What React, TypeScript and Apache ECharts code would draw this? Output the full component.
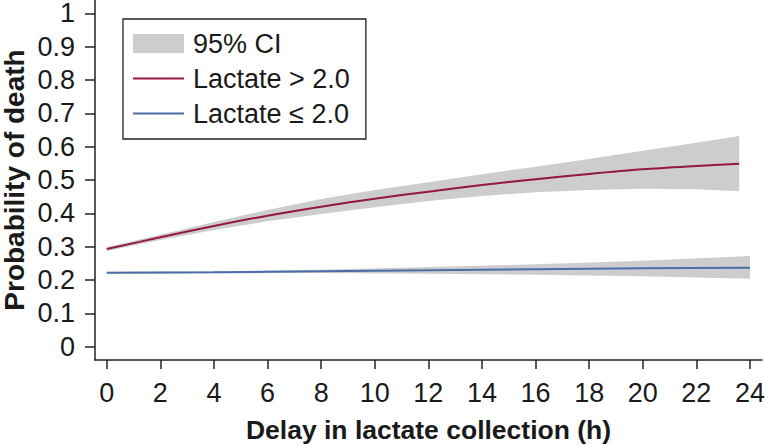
import React, { useEffect, useRef } from "react";
import * as echarts from "echarts";

// ---- data ----
const xTicks = [0, 2, 4, 6, 8, 10, 12, 14, 16, 18, 20, 22, 24];
const yTicks = [0, 0.1, 0.2, 0.3, 0.4, 0.5, 0.6, 0.7, 0.8, 0.9, 1];
const yTickLabels = ["0", "0.1", "0.2", "0.3", "0.4", "0.5", "0.6", "0.7", "0.8", "0.9", "1"];

const highX = [0, 2, 4, 6, 8, 10, 12, 14, 16, 18, 20, 22, 23.6];
const highMean = [0.293, 0.328, 0.362, 0.393, 0.42, 0.444, 0.465, 0.485, 0.502, 0.518, 0.532, 0.542, 0.549];
const highLower = [0.287, 0.32, 0.35, 0.376, 0.398, 0.418, 0.437, 0.452, 0.463, 0.47, 0.474, 0.472, 0.466];
const highUpper = [0.299, 0.336, 0.374, 0.41, 0.443, 0.47, 0.493, 0.517, 0.54, 0.563, 0.588, 0.612, 0.632];

const lowX = [0, 4, 8, 12, 16, 20, 24];
const lowMean = [0.222, 0.223, 0.226, 0.229, 0.232, 0.235, 0.237];
const lowLower = [0.219, 0.22, 0.221, 0.219, 0.216, 0.211, 0.204];
const lowUpper = [0.225, 0.226, 0.231, 0.239, 0.247, 0.258, 0.272];

const seriesNames = ["95% CI", "Lactate > 2.0", "Lactate \u2264 2.0"];

const FONT = "'Liberation Sans', Arial, Helvetica, sans-serif";
const RED = "#94173f";
const BLUE = "#4a6fa6";
const GRAY = "#cdcdd0";
const INK = "#1a1a1a";
const LINE_ICON = "path://M0,0L51,0L51,2L0,2Z";

function bandSeries(xs: number[], lo: number[], up: number[]) {
  return {
    type: "custom",
    name: seriesNames[0],
    itemStyle: { color: GRAY },
    encode: { x: 0, y: [1, 2] },
    data: xs.map((x, i) => [x, lo[i], up[i]]),
    z: 1,
    renderItem: (params: any, api: any) => {
      if (params.dataIndex !== 0) return null;
      const pts: number[][] = [];
      xs.forEach((x, i) => pts.push(api.coord([x, lo[i]])));
      for (let i = xs.length - 1; i >= 0; i--) pts.push(api.coord([xs[i], up[i]]));
      return {
        type: "polygon",
        shape: { points: pts },
        style: { fill: GRAY, stroke: null },
      };
    },
  };
}

export default function App() {
  const ref = useRef<HTMLDivElement>(null);
  useEffect(() => {
    document.body.style.margin = "0";
    const chart = echarts.init(ref.current!, null, { renderer: "svg" });
    chart.setOption({
      animation: false,
      backgroundColor: "#ffffff",
      grid: { left: 95, right: 3, top: 0, bottom: 85, outerBoundsMode: "none" },
      legend: {
        orient: "vertical",
        left: 123,
        top: 19,
        padding: [11, 16, 12, 10],
        itemWidth: 51,
        itemHeight: 19,
        itemGap: 8,
        symbolKeepAspect: true,
        borderColor: "#222",
        borderWidth: 1.3,
        borderRadius: 0,
        textStyle: { fontSize: 27, color: INK, fontFamily: FONT, padding: [0, 0, 0, 4] },
        data: [
          { name: seriesNames[0], icon: "rect", itemStyle: { color: GRAY } },
          { name: seriesNames[1], icon: LINE_ICON, itemStyle: { color: RED } },
          { name: seriesNames[2], icon: LINE_ICON, itemStyle: { color: BLUE } },
        ],
      },
      xAxis: {
        type: "value",
        min: -0.44,
        max: 24.45,
        name: "Delay in lactate collection (h)",
        nameLocation: "middle",
        nameGap: 56,
        nameMoveOverlap: false,
        nameTextStyle: { fontSize: 26.5, fontWeight: "bold", color: INK, fontFamily: FONT },
        axisLine: { show: true, onZero: false, lineStyle: { color: "#222", width: 1.5 } },
        axisTick: { show: true, length: 9, customValues: xTicks, lineStyle: { color: "#222", width: 1.5 } },
        axisLabel: { customValues: xTicks, margin: 19, fontSize: 27, color: INK, fontFamily: FONT },
        splitLine: { show: false },
      },
      yAxis: {
        type: "value",
        min: -0.04,
        max: 1.04,
        name: "Probability of death",
        nameLocation: "middle",
        nameGap: 67,
        nameMoveOverlap: false,
        nameTextStyle: { fontSize: 28, fontWeight: "bold", color: INK, fontFamily: FONT },
        axisLine: { show: true, onZero: false, lineStyle: { color: "#222", width: 1.5 } },
        axisTick: { show: true, length: 10, customValues: yTicks, lineStyle: { color: "#222", width: 1.5 } },
        axisLabel: {
          customValues: yTicks,
          margin: 20,
          fontSize: 27,
          color: INK,
          fontFamily: FONT,
          formatter: (v: number) => {
            const i = yTicks.indexOf(v);
            return i >= 0 ? yTickLabels[i] : String(v);
          },
        },
        splitLine: { show: false },
      },
      series: [
        bandSeries(highX, highLower, highUpper),
        bandSeries(lowX, lowLower, lowUpper),
        {
          type: "line",
          name: seriesNames[1],
          data: highX.map((x, i) => [x, highMean[i]]),
          smooth: 0.3,
          symbol: "none",
          color: RED,
          lineStyle: { color: RED, width: 2 },
          z: 3,
        },
        {
          type: "line",
          name: seriesNames[2],
          data: lowX.map((x, i) => [x, lowMean[i]]),
          smooth: 0.3,
          symbol: "none",
          color: BLUE,
          lineStyle: { color: BLUE, width: 2 },
          z: 3,
        },
      ],
    });
    return () => chart.dispose();
  }, []);
  return <div ref={ref} style={{ width: 765, height: 445 }} />;
}
